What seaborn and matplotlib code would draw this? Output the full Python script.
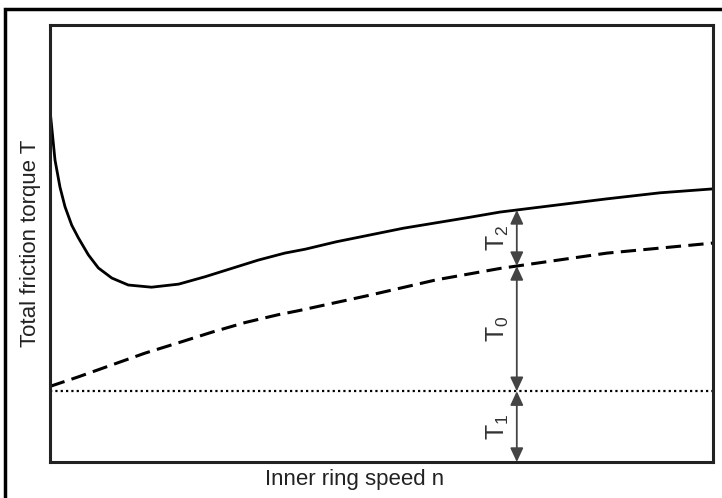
import numpy as np
import pandas as pd
import matplotlib
matplotlib.use("Agg")
import matplotlib.pyplot as plt
import matplotlib.patches as patches
import seaborn as sns

# Inner ring speed (arbitrary units) and torque curves
total_x = [0.0, 0.075, 0.15, 0.226, 0.327, 0.427, 0.578, 0.729, 0.931, 1.18, 1.53,
           1.94, 2.34, 2.74, 3.14, 3.54, 3.85, 4.32, 5.33, 6.33, 6.79, 8.39, 9.2, 10.0]
total_y = [8.05, 6.91, 6.29, 5.84, 5.42, 5.13, 4.74, 4.44, 4.21, 4.05, 4.00,
           4.07, 4.24, 4.43, 4.62, 4.78, 4.87, 5.04, 5.35, 5.60, 5.72, 6.02, 6.16, 6.25]

load_x = [0.0, 0.43, 0.93, 1.43, 1.94, 2.44, 2.94, 3.44, 3.74, 4.83, 5.83, 6.79, 8.4, 10.0]
load_y = [1.73, 1.95, 2.22, 2.49, 2.73, 2.97, 3.19, 3.37, 3.46, 3.82, 4.17, 4.43, 4.78, 5.01]

const_x = [0.0, 10.0]
const_y = [1.62, 1.62]

arrow_at = 7.04
labels = ["$\\mathregular{T_2}$", "$\\mathregular{T_0}$", "$\\mathregular{T_1}$"]

sns.set_style("white")
plt.rcParams['font.family'] = ['Liberation Sans', 'DejaVu Sans']

fig = plt.figure(figsize=(7.22, 4.98), dpi=100)
ax = fig.add_axes([0.0693, 0.0723, 0.9183, 0.8775])

# outer frame of the figure
frame = patches.Rectangle((0.0069, -0.05), 1.2, 0.982 + 0.05, transform=fig.transFigure,
                          fill=False, edgecolor='black', linewidth=2.5, clip_on=False)
fig.patches.append(frame)

total = pd.DataFrame({'n': total_x, 'T': total_y})
load = pd.DataFrame({'n': load_x, 'T': load_y})
const = pd.DataFrame({'n': const_x, 'T': const_y})

sns.lineplot(data=total, x='n', y='T', ax=ax, color='black', linewidth=2.0)
sns.lineplot(data=load, x='n', y='T', ax=ax, color='black', linewidth=2.2)
ax.lines[-1].set_dashes((5, 2.4))
sns.lineplot(data=const, x='n', y='T', ax=ax, color='black', linewidth=1.6)
ax.lines[-1].set_dashes((1, 1.4))
for ln in ax.lines:
    ln.set_solid_joinstyle('round')

ax.set_xlim(0, 10)
ax.set_ylim(0, 10)
ax.set_xticks([])
ax.set_yticks([])
for sp in ax.spines.values():
    sp.set_color('#222222')
    sp.set_linewidth(2.2)

# arrows between the curves at one speed
y_top = np.interp(arrow_at, total_x, total_y)
y_mid = np.interp(arrow_at, load_x, load_y)
y_low = const_y[0]
levels = [(y_top, y_mid), (y_mid, y_low), (y_low, 0.0)]
for (a, b), lab in zip(levels, labels):
    ax.annotate('', xy=(arrow_at, a), xytext=(arrow_at, b),
                arrowprops=dict(arrowstyle='<|-|>,head_length=0.6,head_width=0.28',
                                color='#444444', lw=1.3,
                                mutation_scale=14, shrinkA=0, shrinkB=0))
    ax.text(arrow_at - 0.29, (a + b) / 2, lab, rotation=90, ha='center', va='center',
            fontsize=18, color='#333333')

ax.set_xlabel("Inner ring speed n", fontsize=16, color='#222222')
ax.set_ylabel("Total friction torque T", fontsize=16, color='#222222')
ax.xaxis.set_label_coords(0.46, -0.017)
ax.yaxis.set_label_coords(-0.014, 0.5)

fig.savefig("out.png", dpi=100)
